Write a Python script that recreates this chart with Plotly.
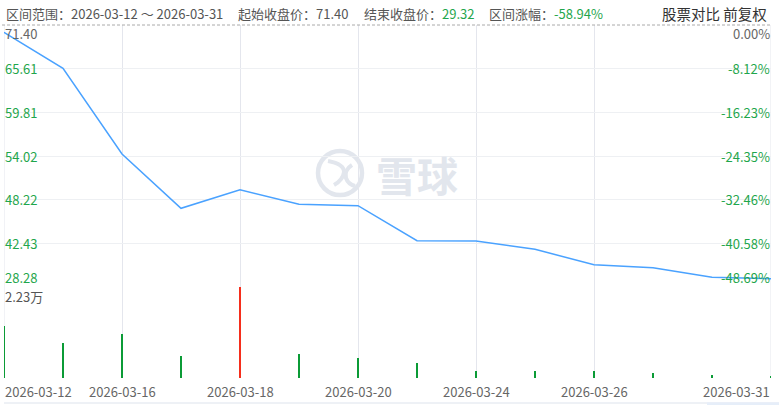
import plotly.graph_objects as go

# ---------------- data ----------------
dates = ["2026-03-12", "2026-03-13", "2026-03-16", "2026-03-17", "2026-03-18",
         "2026-03-19", "2026-03-20", "2026-03-23", "2026-03-24", "2026-03-25",
         "2026-03-26", "2026-03-27", "2026-03-30", "2026-03-31"]
close = [70.43, 65.65, 54.28, 47.07, 49.54, 47.61, 47.42, 42.77, 42.74,
         41.63, 39.59, 39.19, 37.92, 37.73]
volume = [12800, 8650, 10800, 5400, 22300, 5900, 4900, 3750, 1800,
          1800, 1800, 1300, 740, 500]
vol_up = [False, False, False, False, True, False, False, False, False,
          False, False, False, False, False]

price_tick_vals = [71.40, 65.605, 59.81, 54.015, 48.22, 42.425, 36.63]
price_tick_text = ["71.40", "65.61", "59.81", "54.02", "48.22", "42.43", "28.28"]
pct_tick_text = ["0.00%", "-8.12%", "-16.23%", "-24.35%", "-32.46%", "-40.58%", "-48.69%"]

x_tick_idx = [0, 2, 4, 6, 8, 10, 13]
x_tick_text = ["2026-03-12", "2026-03-16", "2026-03-18", "2026-03-20",
               "2026-03-24", "2026-03-26", "2026-03-31"]

vol_max_label = "2.23万"
header_parts = [
    ("区间范围：2026-03-12 ～ 2026-03-31", None),
    ("起始收盘价：71.40", None),
    ("结束收盘价：", "29.32"),
    ("区间涨幅：", "-58.94%"),
]
right_header = "股票对比 前复权"

# ---------------- layout geometry ----------------
W, H = 779, 405
ML, MR, MT, MB = 4, 8, 25, 27
PLOT_H = H - MT - MB          # 353
VOL_H = 91
vol_frac = VOL_H / PLOT_H

FONT = "Noto Sans CJK SC, Noto Sans, sans-serif"
GREEN = "#1fa64c"
GRAY_TXT = "#666666"
LINE_BLUE = "#4aa2ff"
GRID = "#eef0f3"
VGRID = "#e4e6ed"


def px(x):
    return (x - ML) / (W - ML - MR)


def py(y):
    return (H - MB - y) / PLOT_H


xs = list(range(len(dates)))

fig = go.Figure()

fig.add_trace(go.Scatter(
    x=xs, y=close, mode="lines",
    line=dict(color=LINE_BLUE, width=1.5),
    xaxis="x", yaxis="y", hoverinfo="skip", showlegend=False,
))

fig.add_trace(go.Bar(
    x=xs, y=volume, width=0.028,
    marker=dict(color=["#f52e1c" if u else "#0b9b36" for u in vol_up], line=dict(width=0)),
    xaxis="x2", yaxis="y2", hoverinfo="skip", showlegend=False,
))

annotations = []

# price tick labels (left) and percent labels (right)
n = len(price_tick_vals)
for i, (v, t, p) in enumerate(zip(price_tick_vals, price_tick_text, pct_tick_text)):
    if i == 0:
        ya, col, sh = "top", GRAY_TXT, 2
    elif i == n - 1:
        ya, col, sh = "bottom", GREEN, -1
    else:
        ya, col, sh = "middle", GREEN, 0
    annotations.append(dict(x=0, y=v, xref="x", yref="y", text=t, showarrow=False,
                            xanchor="left", yanchor=ya, borderpad=0, yshift=sh,
                            font=dict(size=13, color=col, family=FONT)))
    annotations.append(dict(x=len(xs) - 1, y=v, xref="x", yref="y", text=p, showarrow=False,
                            xanchor="right", yanchor=ya, borderpad=0, yshift=sh,
                            font=dict(size=13, color=col, family=FONT)))

# volume max label
annotations.append(dict(x=0, y=max(volume), xref="x2", yref="y2", text=vol_max_label,
                        showarrow=False, xanchor="left", yanchor="top", borderpad=0, yshift=1,
                        font=dict(size=13, color="#555555", family=FONT)))

# x tick labels
for k, (ix, t) in enumerate(zip(x_tick_idx, x_tick_text)):
    if k == 0:
        xa = "left"
    elif k == len(x_tick_idx) - 1:
        xa = "right"
    else:
        xa = "center"
    annotations.append(dict(x=ix, y=py(391), xref="x2", yref="paper", text=t,
                            showarrow=False, xanchor=xa, yanchor="middle", borderpad=0,
                            font=dict(size=13, color=GRAY_TXT, family=FONT)))

# header
header_x = [5, 237, 363, 488]
for (label, val), hx in zip(header_parts, header_x):
    txt = label if val is None else f"{label}<span style='color:{GREEN}'>{val}</span>"
    annotations.append(dict(x=px(hx), y=py(13), xref="paper", yref="paper", text=txt,
                            showarrow=False, xanchor="left", yanchor="middle", borderpad=0,
                            font=dict(size=13, color="#555555", family=FONT)))
annotations.append(dict(x=px(768), y=py(13), xref="paper", yref="paper", text=right_header,
                        showarrow=False, xanchor="right", yanchor="middle", borderpad=0,
                        font=dict(size=14.5, color="#333333", family=FONT)))

# watermark text
annotations.append(dict(x=px(417), y=py(174), xref="paper", yref="paper", text="<b>雪球</b>",
                        showarrow=False, xanchor="center", yanchor="middle",
                        font=dict(size=41, color="#e2e6ed", family=FONT)))

shapes = []
# top dashed line
shapes.append(dict(type="line", xref="paper", yref="paper", x0=px(2), x1=px(771),
                   y0=py(25), y1=py(25), line=dict(color="#aaaaaa", width=1, dash="3px,2px"),
                   layer="above"))
# left/right borders
for xv in (0, len(xs) - 1):
    shapes.append(dict(type="line", xref="x", yref="paper", x0=xv, x1=xv,
                       y0=0, y1=py(25), line=dict(color=VGRID, width=1), layer="below"))
# bottom navigator line
shapes.append(dict(type="line", xref="paper", yref="paper", x0=px(4), x1=px(779),
                   y0=py(403), y1=py(403), line=dict(color="#dde3ec", width=1)))
shapes.append(dict(type="rect", xref="paper", yref="paper", x0=px(707), x1=px(779),
                   y0=py(405), y1=py(402.5), fillcolor="#e6eef9", line=dict(width=0)))
# watermark logo circle
shapes.append(dict(type="circle", xref="paper", yref="paper", x0=px(318), x1=px(362),
                   y0=py(195), y1=py(151), line=dict(color="#e2e6ed", width=4.5), layer="below"))
# logo inner strokes
def P(x, y):
    return f"{px(x):.5f},{py(y):.5f}"
shapes.append(dict(type="path", xref="paper", yref="paper",
                   path=f"M{P(328,161)} Q{P(344,164)} {P(344,172)} Q{P(343,180)} {P(334,185)}",
                   line=dict(color="#e2e6ed", width=4), layer="below"))
shapes.append(dict(type="path", xref="paper", yref="paper",
                   path=f"M{P(352,165)} Q{P(344,170)} {P(346,178)} Q{P(348,184)} {P(355,186)}",
                   line=dict(color="#e2e6ed", width=4), layer="below"))

fig.update_layout(
    width=W, height=H,
    margin=dict(l=ML, r=MR, t=MT, b=MB),
    paper_bgcolor="white", plot_bgcolor="white",
    showlegend=False,
    bargap=0,
    hovermode=False,
    xaxis=dict(domain=[0, 1], range=[0, len(xs) - 1], anchor="y",
               tickvals=x_tick_idx[1:-1], showticklabels=False, showgrid=True,
               gridcolor=VGRID, gridwidth=1, zeroline=False, showline=False, ticks=""),
    yaxis=dict(domain=[vol_frac, 1], range=[price_tick_vals[-1], price_tick_vals[0]],
               tickvals=price_tick_vals[1:], showticklabels=False, showgrid=True,
               gridcolor=GRID, gridwidth=1, zeroline=False, showline=False, ticks=""),
    xaxis2=dict(domain=[0, 1], range=[0, len(xs) - 1], anchor="y2",
                tickvals=x_tick_idx[1:-1], showticklabels=False, showgrid=True,
                gridcolor=VGRID, gridwidth=1, zeroline=False, showline=False, ticks=""),
    yaxis2=dict(domain=[0, vol_frac], range=[0, max(volume)], showticklabels=False,
                showgrid=False, zeroline=False, showline=False, ticks=""),
    annotations=annotations,
    shapes=shapes,
)

fig.write_html(
    "out.html",
    config={"displayModeBar": False, "staticPlot": True},
    post_script="document.body.style.margin='0';document.body.style.overflow='hidden';",
)
